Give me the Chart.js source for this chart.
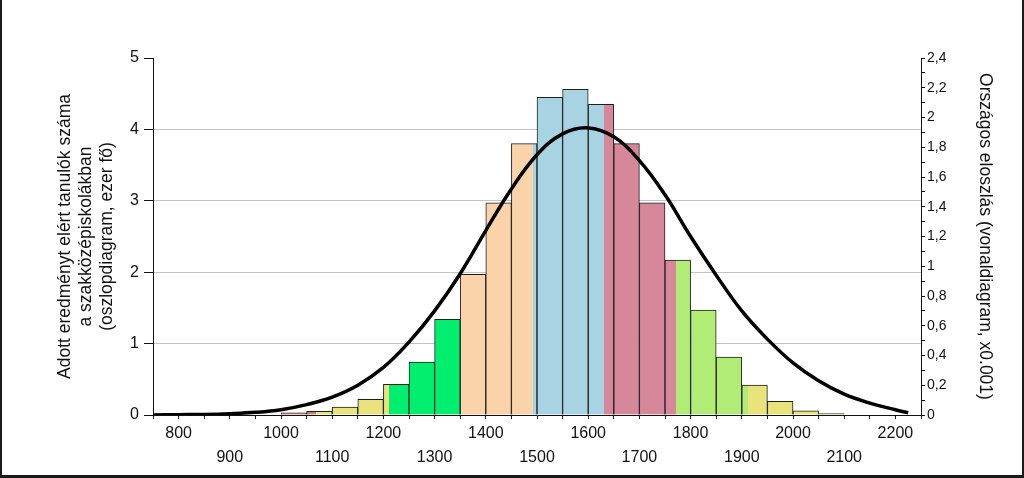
<!DOCTYPE html>
<html>
<head>
<meta charset="utf-8">
<script src="https://cdn.jsdelivr.net/npm/chart.js@4.4.1/dist/chart.umd.min.js"></script>
<style>
  html, body { margin: 0; padding: 0; background: #fff; }
  #keret {
    position: absolute; left: 0; top: 0;
    width: 1024px; height: 478px; box-sizing: border-box;
    border-left: 2px solid #1a1a1a; border-right: 2px solid #1a1a1a; border-bottom: 3px solid #1a1a1a;
  }
  canvas { display: block; }
</style>
</head>
<body>
<div id="keret"><canvas id="grafikon" width="1020" height="475"></canvas></div>
<script>
// oszlopok: 50 pontos sávok kezdőértéke és a tanulók száma (ezer fő)
const binStart = [1000, 1050, 1100, 1150, 1200, 1250, 1300, 1350, 1400, 1450, 1500,
                  1550, 1600, 1650, 1700, 1750, 1800, 1850, 1900, 1950, 2000, 2050];
const counts   = [0.03, 0.05, 0.11, 0.22, 0.43, 0.74, 1.34, 1.97, 2.97, 3.80, 4.45,
                  4.56, 4.35, 3.80, 2.97, 2.17, 1.47, 0.81, 0.42, 0.19, 0.06, 0.02];
const binWidth = 50;

// országos eloszlás (x0.001)
const curveX = [750, 800, 850, 900, 950, 1000, 1050, 1100, 1150, 1200, 1250, 1300, 1350, 1400, 1450,
                1500, 1550, 1600, 1650, 1700, 1750, 1800, 1850, 1900, 1950, 2000, 2050, 2100, 2150, 2200, 2225];
const curveY = [0, 0.002, 0.004, 0.009, 0.018, 0.036, 0.07, 0.12, 0.2, 0.32, 0.49, 0.70, 0.95, 1.24, 1.52,
                1.75, 1.89, 1.93, 1.87, 1.71, 1.48, 1.2, 0.94, 0.7, 0.51, 0.35, 0.23, 0.14, 0.08, 0.035, 0.015];

// képességszint-sávok határai és színei
const bandEdges  = [1069, 1211, 1350, 1493, 1631, 1772, 1912];
const bandColors = ['#c8806e', '#e9e37c', '#00ef6f', '#fbd3ab', '#a7d3e2', '#d6879a', '#b0ec76', '#e9e37c'];

// tengelyfeliratok
const xLabelsTop    = [800, 1000, 1200, 1400, 1600, 1800, 2000, 2200];
const xLabelsBottom = [900, 1100, 1300, 1500, 1700, 1900, 2100];
const leftTitle  = ['Adott eredményt elért tanulók száma', 'a szakközépiskolákban', '(oszlopdiagram, ezer fő)'];
const rightTitle = 'Országos eloszlás (vonaldiagram, x0.001)';

const betu = 'Arial, "Liberation Sans", sans-serif';

let savGradiens = null, savKulcs = '';
function savSzin(context) {
    const chart = context.chart;
    const x = chart.scales.x;
    if (!chart.chartArea || !x) return bandColors[0];
    const x0 = x.getPixelForValue(x.min), x1 = x.getPixelForValue(x.max);
    const kulcs = x0 + ':' + x1;
    if (savGradiens && savKulcs === kulcs) return savGradiens;
    const g = chart.ctx.createLinearGradient(x0, 0, x1, 0);
    g.addColorStop(0, bandColors[0]);
    bandEdges.forEach((e, i) => {
        const t = (x.getPixelForValue(e) - x0) / (x1 - x0);
        g.addColorStop(t, bandColors[i]);
        g.addColorStop(t, bandColors[i + 1]);
    });
    g.addColorStop(1, bandColors[bandColors.length - 1]);
    savGradiens = g;
    savKulcs = kulcs;
    return g;
}

new Chart(document.getElementById('grafikon'), {
    type: 'bar',
    data: {
        datasets: [{
            type: 'line',
            data: curveX.map((v, i) => ({ x: v, y: curveY[i] })),
            yAxisID: 'y2',
            borderColor: '#000',
            borderWidth: 3.5,
            pointRadius: 0,
            fill: false,
            tension: 0.4,
            order: 0
        }, {
            type: 'bar',
            data: binStart.map((s, i) => ({ x: s + binWidth / 2, y: counts[i] })),
            yAxisID: 'y',
            backgroundColor: savSzin,
            borderColor: '#1e1e1e',
            borderWidth: 1,
            borderSkipped: 'bottom',
            barPercentage: 1,
            categoryPercentage: 1,
            grouped: false,
            order: 1
        }]
    },
    options: {
        responsive: false,
        animation: false,
        layout: { padding: { top: 58, left: 0, right: 0, bottom: 0 } },
        plugins: {
            legend: { display: false },
            tooltip: { enabled: false }
        },
        scales: {
            x: {
                type: 'linear',
                min: 750,
                max: 2250,
                offset: false,
                grid: { drawOnChartArea: false, offset: false, tickLength: 4, tickColor: '#111' },
                border: { color: '#111', width: 1 },
                ticks: {
                    stepSize: 50,
                    autoSkip: false,
                    maxRotation: 0,
                    padding: 3,
                    color: '#111',
                    font: { family: betu, size: 16, lineHeight: 1.5 },
                    callback: v => xLabelsTop.includes(v) ? [String(v)]
                                 : xLabelsBottom.includes(v) ? ['', String(v)] : ''
                },
                afterFit: s => { s.height = 60; }
            },
            y: {
                position: 'left',
                min: 0,
                max: 5,
                grid: {
                    color: c => (c.tick && (c.tick.value === 0 || c.tick.value === 5)) ? 'rgba(0,0,0,0)' : '#c4c4c4',
                    tickColor: '#111',
                    tickLength: 9
                },
                border: { color: '#111', width: 1 },
                ticks: {
                    stepSize: 1,
                    padding: 5,
                    color: '#111',
                    font: { family: betu, size: 16 }
                },
                title: {
                    display: true,
                    text: leftTitle,
                    color: '#111',
                    font: { family: betu, size: 17.5, lineHeight: 1.2 },
                    padding: { top: 52.5, bottom: 0 }
                },
                afterFit: s => { s.width = 151; }
            },
            y2: {
                position: 'right',
                min: 0,
                max: 2.4,
                grid: { drawOnChartArea: false, tickColor: '#111', tickLength: 4 },
                border: { color: '#111', width: 1 },
                ticks: {
                    stepSize: 0.1,
                    autoSkip: false,
                    padding: 2,
                    color: '#111',
                    font: { family: betu, size: 14 },
                    callback: v => Math.round(v * 10) % 2 === 0 ? String(+v.toFixed(1)).replace('.', ',') : ''
                },
                title: {
                    display: true,
                    text: rightTitle,
                    color: '#111',
                    font: { family: betu, size: 17.5, lineHeight: 1.2 },
                    padding: { top: 26.5, bottom: 0 }
                },
                afterFit: s => { s.width = 101; }
            }
        }
    }
});
</script>
</body>
</html>
